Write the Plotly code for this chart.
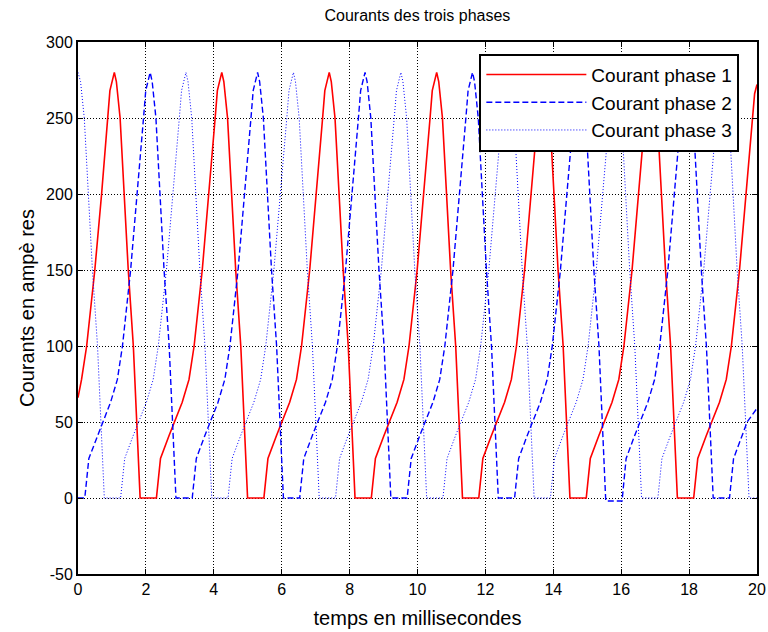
import plotly.graph_objects as go

# Time axis (ms) and current (A) vertices of each phase
t_phase1 = [0.0, 0.105, 0.255, 0.495, 0.695, 0.875, 0.94, 1.07, 1.13,
            1.24, 1.36, 1.48, 1.63, 1.72, 1.83, 2.31, 2.43, 2.68, 2.83, 3.07, 3.27, 3.42, 3.66, 3.86, 4.04, 4.105, 4.235, 4.295,
            4.405, 4.525, 4.645, 4.795, 4.885, 4.995, 5.475, 5.595, 5.845, 5.995, 6.235, 6.435, 6.585, 6.825, 7.025, 7.205, 7.27, 7.40, 7.46,
            7.57, 7.69, 7.81, 7.96, 8.05, 8.16, 8.64, 8.76, 9.01, 9.16, 9.40, 9.60, 9.75, 9.99, 10.19, 10.37, 10.435, 10.565, 10.625,
            10.735, 10.855, 10.975, 11.125, 11.215, 11.325, 11.805, 11.925, 12.175, 12.325, 12.565, 12.765, 12.915, 13.155, 13.355, 13.535, 13.60, 13.73, 13.79,
            13.90, 14.02, 14.14, 14.29, 14.38, 14.49, 14.97, 15.09, 15.34, 15.49, 15.73, 15.93, 16.08, 16.32, 16.52, 16.70, 16.765, 16.895, 16.955,
            17.065, 17.185, 17.305, 17.455, 17.545, 17.655, 18.135, 18.255, 18.505, 18.655, 18.895, 19.095, 19.245, 19.485, 19.685, 19.865, 19.93, 20.0]
i_phase1 = [66, 78, 100, 150, 200, 250, 268, 280, 274,
            250, 200, 150, 100, 50, 0, 0, 26, 41, 50, 63, 78, 100, 150, 200, 250, 268, 280, 274,
            250, 200, 150, 100, 50, 0, 0, 26, 41, 50, 63, 78, 100, 150, 200, 250, 268, 280, 274,
            250, 200, 150, 100, 50, 0, 0, 26, 41, 50, 63, 78, 100, 150, 200, 250, 268, 280, 274,
            250, 200, 150, 100, 50, 0, 0, 26, 41, 50, 63, 78, 100, 150, 200, 250, 268, 280, 274,
            250, 200, 150, 100, 50, 0, 0, 26, 41, 50, 63, 78, 100, 150, 200, 250, 268, 280, 274,
            250, 200, 150, 100, 50, 0, 0, 26, 41, 50, 63, 78, 100, 150, 200, 250, 266, 272]

t_phase2 = [0.0, 0.20, 0.32, 0.57, 0.72, 0.96, 1.16, 1.31, 1.55, 1.75, 1.93, 1.995, 2.125, 2.185,
            2.295, 2.415, 2.535, 2.685, 2.775, 2.885, 3.365, 3.485, 3.735, 3.885, 4.125, 4.325, 4.475, 4.715, 4.915, 5.095, 5.16, 5.29, 5.35,
            5.46, 5.58, 5.70, 5.85, 5.94, 6.05, 6.53, 6.65, 6.90, 7.05, 7.29, 7.49, 7.64, 7.88, 8.08, 8.26, 8.325, 8.455, 8.515,
            8.625, 8.745, 8.865, 9.015, 9.105, 9.215, 9.695, 9.815, 10.065, 10.215, 10.455, 10.655, 10.805, 11.045, 11.245, 11.425, 11.49, 11.62, 11.68,
            11.79, 11.91, 12.03, 12.18, 12.27, 12.38, 12.86, 12.98, 13.23, 13.38, 13.62, 13.82, 13.97, 14.21, 14.41, 14.59, 14.655, 14.785, 14.845,
            14.955, 15.075, 15.195, 15.345, 15.435, 15.545, 16.025, 16.145, 16.395, 16.545, 16.785, 16.985, 17.135, 17.375, 17.575, 17.755, 17.82, 17.95, 18.01,
            18.12, 18.24, 18.36, 18.51, 18.60, 18.71, 19.19, 19.31, 19.56, 19.71, 20.0]
i_phase2 = [0, 0, 26, 41, 50, 63, 78, 100, 150, 200, 250, 268, 280, 274,
            250, 200, 150, 100, 50, 0, 0, 26, 41, 50, 63, 78, 100, 150, 200, 250, 268, 280, 274,
            250, 200, 150, 100, 50, 0, 0, 26, 41, 50, 63, 78, 100, 150, 200, 250, 268, 280, 274,
            250, 200, 150, 100, 50, 0, 0, 26, 41, 50, 63, 78, 100, 150, 200, 250, 268, 280, 274,
            250, 200, 150, 100, 50, 0, 0, 26, 41, 50, 63, 78, 100, 150, 200, 250, 268, 280, 274,
            250, 200, 150, 100, 50, -2, -2, 26, 41, 50, 63, 78, 100, 150, 200, 250, 268, 280, 274,
            250, 200, 150, 100, 50, 0, 0, 26, 41, 50, 59]

t_phase3 = [0.0, 0.075, 0.185, 0.305, 0.425, 0.575, 0.665, 0.775, 1.255, 1.375, 1.625, 1.775, 2.015, 2.215, 2.365, 2.605, 2.805, 2.985, 3.05, 3.18, 3.24,
            3.35, 3.47, 3.59, 3.74, 3.83, 3.94, 4.42, 4.54, 4.79, 4.94, 5.18, 5.38, 5.53, 5.77, 5.97, 6.15, 6.215, 6.345, 6.405,
            6.515, 6.635, 6.755, 6.905, 6.995, 7.105, 7.585, 7.705, 7.955, 8.105, 8.345, 8.545, 8.695, 8.935, 9.135, 9.315, 9.38, 9.51, 9.57,
            9.68, 9.80, 9.92, 10.07, 10.16, 10.27, 10.75, 10.87, 11.12, 11.27, 11.51, 11.71, 11.86, 12.10, 12.30, 12.48, 12.545, 12.675, 12.735,
            12.845, 12.965, 13.085, 13.235, 13.325, 13.435, 13.915, 14.035, 14.285, 14.435, 14.675, 14.875, 15.025, 15.265, 15.465, 15.645, 15.71, 15.84, 15.90,
            16.01, 16.13, 16.25, 16.40, 16.49, 16.60, 17.08, 17.20, 17.45, 17.60, 17.84, 18.04, 18.19, 18.43, 18.63, 18.81, 18.875, 19.005, 19.065,
            19.175, 19.295, 19.415, 19.565, 19.655, 19.765, 20.0]
i_phase3 = [280, 274, 250, 200, 150, 100, 50, 0, 0, 26, 41, 50, 63, 78, 100, 150, 200, 250, 268, 280, 274,
            250, 200, 150, 100, 50, 0, 0, 26, 41, 50, 63, 78, 100, 150, 200, 250, 268, 280, 274,
            250, 200, 150, 100, 50, 0, 0, 26, 41, 50, 63, 78, 100, 150, 200, 250, 268, 280, 274,
            250, 200, 150, 100, 50, 0, 0, 26, 41, 50, 63, 78, 100, 150, 200, 250, 268, 280, 274,
            250, 200, 150, 100, 50, 0, 0, 26, 41, 50, 63, 78, 100, 150, 200, 250, 268, 280, 274,
            250, 200, 150, 100, 50, 0, 0, 26, 41, 50, 63, 78, 100, 150, 200, 250, 268, 280, 274,
            250, 200, 150, 100, 50, 0, 0]

series_names = ["Courant phase 1", "Courant phase 2", "Courant phase 3"]
x_ticks = [0, 2, 4, 6, 8, 10, 12, 14, 16, 18, 20]
y_ticks = [-50, 0, 50, 100, 150, 200, 250, 300]
y_tick_labels = ["-50", "0", "50", "100", "150", "200", "250", "300"]

FONT = "Arial, Liberation Sans, sans-serif"

fig = go.Figure()
fig.add_trace(go.Scatter(x=t_phase1, y=i_phase1, mode="lines", name=series_names[0],
                         line=dict(color="#ff0000", width=1.6)))
fig.add_trace(go.Scatter(x=t_phase2, y=i_phase2, mode="lines", name=series_names[1],
                         line=dict(color="#0000ff", width=1.4, dash="6px,3px")))
fig.add_trace(go.Scatter(x=t_phase3, y=i_phase3, mode="lines", name=series_names[2],
                         line=dict(color="#0000ff", width=1, dash="1px,2px")))

axis_common = dict(
    showgrid=True, gridcolor="black", griddash="1px,2px", gridwidth=1,
    showline=True, linecolor="black", linewidth=2, mirror="allticks",
    ticks="inside", ticklen=5, tickcolor="black", tickwidth=1,
    zeroline=False, tickfont=dict(family=FONT, size=16, color="black"),
    automargin=False,
)

fig.update_xaxes(range=[0, 20], tickvals=x_ticks,
                 title=dict(text="temps en millisecondes", font=dict(family=FONT, size=20, color="black"), standoff=14),
                 **axis_common)
fig.update_yaxes(range=[-50, 300], tickvals=y_ticks, ticktext=y_tick_labels,
                 title=dict(text="Courants en ampè res", font=dict(family=FONT, size=20, color="black"), standoff=6),
                 **axis_common)

fig.update_layout(
    width=768, height=632,
    margin=dict(l=78, r=11, t=42, b=58),
    paper_bgcolor="white", plot_bgcolor="white",
    title=dict(text="Courants des trois phases", x=0.5435, xanchor="center", y=0.975, yanchor="middle",
               font=dict(family=FONT, size=16, color="black")),
    legend=dict(x=0.974, y=0.978, xanchor="right", yanchor="top",
                bgcolor="white", bordercolor="black", borderwidth=2,
                font=dict(family=FONT, size=19, color="black"),
                itemwidth=100),
    showlegend=True,
)

fig.write_html("out.html")
